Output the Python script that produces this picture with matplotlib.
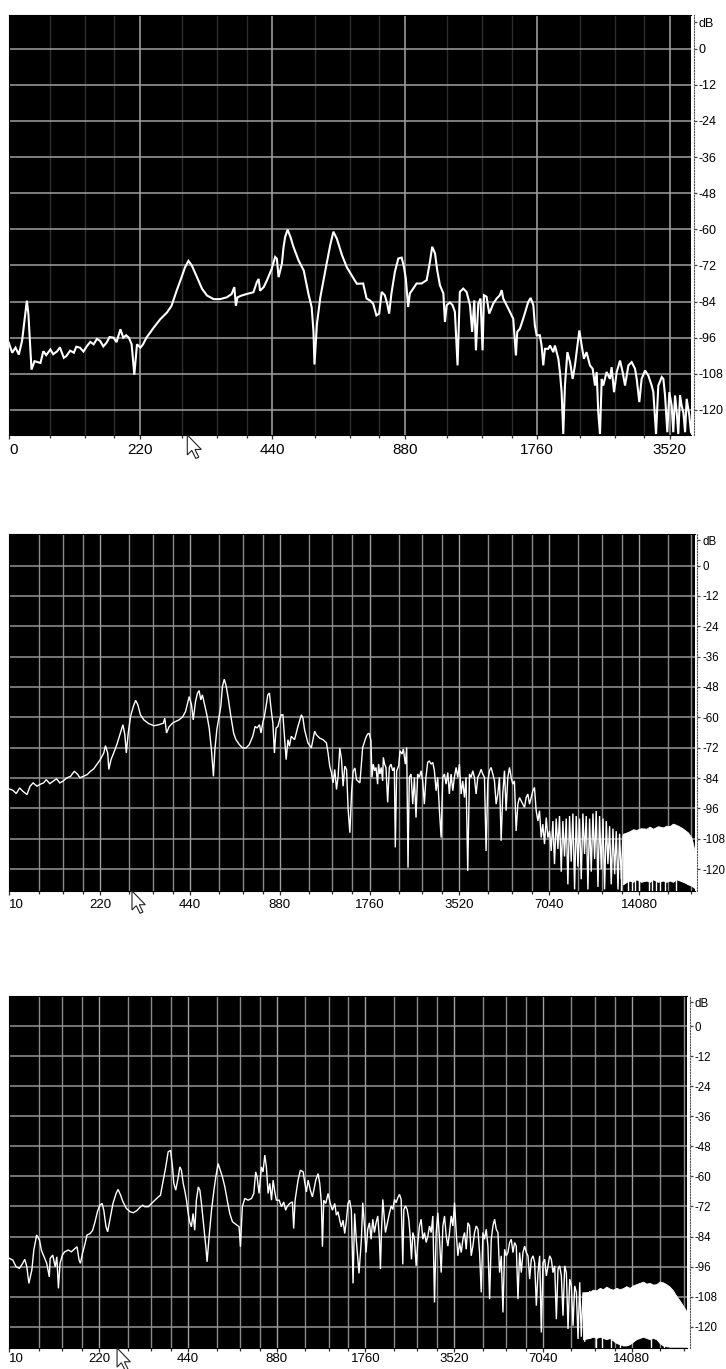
import matplotlib
matplotlib.use('Agg')
import matplotlib.pyplot as plt
from matplotlib.patches import Polygon
from matplotlib.transforms import ScaledTranslation
from matplotlib.ticker import NullFormatter

plt.rcParams['font.family'] = ['Liberation Sans Narrow', 'Liberation Sans', 'DejaVu Sans']

# ---------------- shared axis data ----------------
db_levels = [0, -12, -24, -36, -48, -60, -72, -84, -96, -108, -120]
db_labels = ['0', '-12', '-24', '-36', '-48', '-60', '-72', '-84', '-96', '-108', '-120']
p1_xlabels = ['0', '220', '440', '880', '1760', '3520']
p23_xlabels = ['10', '220', '440', '880', '1760', '3520', '7040', '14080']
octave_bases = [110, 220, 440, 880, 1760, 3520, 7040, 14080]
minor_steps = [1.25, 1.5, 1.75]

# ---------------- panel 1 trace ----------------
p1_freq = [111, 113, 115, 117, 119, 121, 122, 123, 125, 127, 131, 132, 133, 135, 138, 140, 143, 145,
           148, 150, 153, 156, 158, 161, 164, 167, 170, 173, 176, 179, 182, 185, 188, 192, 195, 199,
           202, 205, 208, 211, 214, 217, 221, 224, 228, 237, 245, 254, 260, 267, 274, 279, 284, 289,
           297, 305, 313, 324, 335, 347, 356, 361, 364, 367, 375, 385, 399, 406, 410, 413, 421, 428,
           439, 447, 451, 455, 463, 467, 471, 477, 484, 492, 505, 519, 532, 541, 546, 549, 556, 566,
           581, 596, 606, 617, 634, 650, 667, 685,
           708, 721, 733, 746, 759, 770, 780, 793, 803, 811, 821, 836, 851, 866, 876, 885, 896, 904,
           920, 936, 961, 987, 1004, 1016, 1031, 1043, 1058, 1077, 1086, 1096, 1115, 1130, 1144, 1160,
           1174, 1195, 1216, 1238, 1252, 1266, 1277, 1293, 1308, 1322, 1332, 1350, 1369, 1398, 1423,
           1447, 1461, 1473, 1512, 1552, 1574, 1585, 1607, 1635, 1679, 1700, 1724, 1738, 1754, 1784,
           1800, 1816, 1832, 1864, 1881, 1914, 1930, 1965, 1981, 1999, 2016, 2034, 2060, 2089, 2118,
           2143, 2162, 2193, 2220, 2246, 2277, 2318, 2351, 2380, 2401, 2421, 2443, 2465, 2485, 2529,
           2574, 2596, 2629, 2666, 2713, 2750, 2785, 2834, 2883, 2934, 2960, 3001, 3037, 3092, 3146,
           3201, 3229, 3275, 3314, 3374, 3403, 3433, 3474, 3511, 3554, 3584, 3617, 3649, 3679, 3713,
           3744, 3778, 3812, 3844, 3898, 3932]
p1_db = [-97.7, -101.0, -99.3, -101.6, -97.0, -88.2, -83.7, -88.2, -106.6, -103.8, -104.4, -102.5,
         -100.5, -101.8, -99.9, -101.5, -100.5, -99.2, -102.7, -102.1, -100.3, -101.0, -99.0, -99.3,
         -100.6, -98.8, -97.4, -98.2, -96.4, -97.1, -98.9, -97.7, -95.8, -96.0, -97.5, -93.2, -96.0,
         -95.2, -96.0, -98.2, -108.3, -98.2, -99.3, -98.2, -96.0, -92.6, -89.9, -87.6, -85.4, -80.4,
         -75.9, -72.6, -70.5, -72.0, -75.9, -79.8, -82.0, -83.2, -83.2, -82.6, -81.5, -79.2, -85.4,
         -82.6, -82.0, -81.5, -80.9, -77.6, -76.5, -80.4, -79.2, -77.0, -73.1, -69.2, -69.8, -75.9,
         -71.4, -65.9, -62.5, -60.1, -62.5, -65.9, -70.3, -73.7, -81.5, -85.9, -93.8, -104.9, -91.5,
         -82.6, -73.7, -65.3, -60.8, -63.1, -68.6, -72.6, -75.3, -78.1,
         -78.0, -83.0, -83.6, -84.7, -88.6, -88.0, -80.8, -81.9, -84.7, -88.0, -81.3, -74.1, -69.7,
         -69.4, -72.4, -76.3, -85.8, -81.3, -79.7, -78.0, -78.0, -76.9, -70.8, -65.8, -68.0, -73.6,
         -78.6, -81.3, -90.8, -85.2, -84.3, -85.2, -87.4, -105.2, -80.8, -79.7, -80.8, -85.2, -94.1,
         -83.6, -100.2, -84.7, -83.0, -100.2, -81.9, -82.4, -88.0, -84.7, -83.0, -81.9, -80.2, -83.0,
         -86.3, -89.7, -101.9, -94.1, -93.0, -89.7, -84.1, -82.8, -85.2, -91.9, -95.2, -95.2, -98.6,
         -105.2, -99.7, -99.7, -98.6, -100.8, -98.6, -103.0, -107.4, -114.1, -128.0, -111.9, -100.8,
         -104.1, -109.7, -105.2, -100.8, -93.6, -98.6, -103.0, -100.8, -105.2, -106.3, -111.9,
         -107.4, -120.8, -128.0, -109.7, -111.9, -107.4, -109.7, -105.8, -114.1, -107.4, -103.6,
         -107.4, -111.9, -105.2, -104.1, -106.3, -109.7, -117.4, -109.7, -106.9, -108.6, -111.9,
         -114.1, -128.0, -111.9, -109.1, -109.7, -115.2, -127.4, -114.1, -118.6, -127.4, -115.2,
         -120.8, -128.0, -115.2, -118.6, -120.8, -127.4, -116.3, -121.9, -127.4]

# ---------------- panel 2 trace ----------------
p2_freq = [109, 112, 115, 118, 121, 125, 128, 131, 135, 138, 142, 145, 149, 153, 157, 161, 165, 170,
           175, 180, 185, 188, 193, 199, 204, 209, 214, 220, 226, 229, 233, 235, 239, 244, 250, 257,
           262, 266, 269, 273, 278, 284, 289, 294, 300, 308, 320, 333, 346, 358, 362, 367, 374, 384,
           394, 404, 415, 425, 437, 445, 451, 459, 466, 472, 478, 484, 491, 501, 510, 519, 527, 533,
           541, 551, 558, 565, 573, 582, 592, 603, 616, 627, 644, 660, 678, 695, 714, 727, 738, 752,
           761, 771, 781, 791, 802, 812, 823, 834, 844, 855, 867, 878, 889, 901, 912, 924, 937, 948,
           961, 986, 1012, 1039, 1052, 1065, 1093, 1122, 1151, 1167, 1197, 1228, 1261, 1277, 1294,
           1311, 1327, 1345, 1363, 1380, 1398, 1417, 1434, 1453, 1473, 1491, 1511, 1531, 1550, 1571,
           1590, 1633,
           1668, 1690, 1711, 1733, 1755, 1778, 1792, 1810, 1829, 1849, 1872, 1886, 1905, 1925, 1946,
           1956, 1976, 1997, 2023, 2049, 2075, 2103, 2130, 2146, 2169, 2203, 2226, 2261, 2284, 2319,
           2343, 2367, 2391, 2423, 2455, 2487, 2518, 2550, 2584, 2617, 2651, 2686, 2719, 2755, 2790,
           2828, 2866, 2902, 2940, 2977, 3017, 3057, 3095, 3136, 3175, 3218, 3257, 3301, 3345, 3386,
           3431, 3475, 3520, 3567, 3612, 3660, 3705, 3754, 3805, 3852, 3903, 3952, 4005, 4056, 4108,
           4163, 4215, 4271, 4325, 4383, 4440, 4496, 4556, 4614, 4674, 4735, 4795, 4858, 4920, 4985,
           5048, 5115, 5182, 5248, 5316, 5383, 5454, 5527, 5597, 5671, 5743, 5818, 5892, 5970, 6048,
           6125, 6206, 6284, 6367, 6451, 6533, 6619, 6703, 6791, 6881, 6967, 7060, 7149,
           7243, 7335, 7431, 7529, 7624, 7726, 7822, 7926, 8031, 8132, 8239, 8343, 8453, 8565, 8673,
           8787, 8898, 9016, 9130, 9250, 9373, 9491, 9616, 9739, 9867, 9998, 10123, 10257, 10386,
           10524, 10663, 10797, 10940, 11078, 11225, 11366, 11517, 11670, 11816, 11972, 12122, 12283,
           12444]
p2_db = [-88.3, -88.8, -90.1, -87.9, -89.2, -90.5, -87.2, -85.9, -87.2, -86.5, -85.9, -84.6, -86.2,
         -85.2, -84.3, -85.9, -85.2, -83.9, -83.3, -81.3, -82.6, -83.9, -83.3, -82.6, -81.3, -80.4,
         -78.7, -76.7, -74.1, -71.2, -74.1, -80.6, -76.7, -74.1, -70.8, -66.2, -62.9, -66.9, -74.1,
         -66.2, -59.6, -55.7, -53.3, -55.0, -59.0, -61.0, -62.5, -63.3, -62.9, -62.3, -60.3, -66.2,
         -63.8, -62.3, -61.6, -61.0, -59.9, -57.7, -51.8, -55.0, -61.0, -53.7, -50.4, -49.4, -53.1,
         -51.1, -54.4, -59.0, -64.2, -72.8, -83.3, -72.8, -64.9, -59.6, -55.7, -47.8, -44.9, -47.8,
         -53.1, -59.6, -66.2, -68.8, -70.8, -72.1, -72.1, -70.8, -67.5, -63.6, -64.2, -62.9, -66.2,
         -62.3, -59.6, -55.7, -51.1, -50.4, -57.0, -62.3, -74.1, -64.2, -63.6, -61.0, -59.0, -59.0,
         -67.5, -76.7, -68.8, -71.4, -67.5, -68.8, -63.6, -59.0, -60.3, -64.9, -70.1, -72.1, -65.5,
         -66.9, -68.2, -68.8, -70.1, -74.1, -79.3, -82.0, -85.9, -80.6, -88.5, -83.3, -72.1, -76.7,
         -87.2, -79.3, -80.6, -96.4, -105.6, -89.8, -81.3, -80.0, -84.6, -85.9,
         -71.9, -69.9, -67.9, -66.6, -66.3, -69.2, -83.7, -78.5, -81.1, -79.8, -86.4, -78.5, -82.4,
         -79.8, -85.1, -75.8, -78.5, -79.8, -93.6, -79.8, -78.5, -81.1, -79.8, -111.4, -81.1, -79.1,
         -73.2, -74.5, -72.5, -78.5, -71.9, -119.4, -83.7, -82.4, -94.3, -83.7, -99.6, -82.4, -83.7,
         -81.1, -85.1, -94.3, -83.7, -77.8, -77.2, -78.5, -77.8, -81.1, -89.0, -83.7, -96.9, -107.5,
         -83.7, -82.4, -86.4, -81.8, -90.3, -82.4, -89.0, -83.7, -79.8, -83.7, -78.5, -90.3, -85.1,
         -91.7, -83.7, -120.7, -82.4, -83.7, -81.1, -83.7, -90.3, -83.7, -82.4, -80.5, -82.4, -83.7,
         -112.8, -85.1, -81.1, -79.8, -82.4, -85.1, -94.3, -90.3, -83.7, -108.8, -90.3, -81.1, -96.9,
         -83.7, -79.8, -83.7, -86.4, -85.1, -104.9, -94.3, -91.7, -93.0, -94.3, -95.6, -91.7, -90.3,
         -94.3, -91.7, -89.0, -87.7, -96.9, -100.9, -96.9, -107.5, -102.2, -110.1, -99.6, -107.5,
         -104.9, -112.8,
         -101.0, -118.0, -100.0, -112.0, -99.0, -121.0, -101.0, -115.0, -100.0, -126.0, -99.0, -117.0,
         -98.0, -128.0, -99.0, -119.0, -100.0, -124.0, -98.0, -114.0, -99.0, -128.0, -100.0, -121.0,
         -98.0, -116.0, -97.0, -127.0, -99.0, -120.0, -100.0, -128.0, -101.0, -118.0, -103.0, -126.0,
         -104.0, -122.0, -105.0, -128.0, -106.0, -124.0, -107.0]

# dense (solid) high-frequency band of panel 2
p2_band_freq = [12444, 12800, 13099, 13450, 13791, 14300, 14903, 15300, 15690, 16300, 16951, 17400,
                17846, 18300, 18786, 19300, 19789, 20200, 20557, 21103, 21370, 21650]
p2_band_top = [-106.0, -105.5, -105.0, -104.2, -104.5, -103.8, -104.0, -103.2, -104.0, -103.0,
               -103.5, -102.8, -103.0, -102.0, -102.5, -103.2, -104.0, -104.8, -105.5, -107.5,
               -110.0, -113.0]
p2_band_bot = [-126.0, -125.0, -124.5, -125.0, -124.0, -125.0, -124.5, -125.0, -124.0, -125.0,
               -124.5, -125.0, -124.5, -125.0, -124.0, -124.5, -125.0, -125.5, -126.0, -126.5,
               -127.0, -127.5]
p2_spike_freq = [12300, 12900, 13300, 13700, 14100, 15200, 15600, 16000, 16500, 17200, 18700]
p2_spike_top = [-122.0, -124.0, -123.0, -117.0, -124.0, -123.0, -121.0, -122.0, -124.0, -123.0, -120.0]

# ---------------- panel 3 trace ----------------
p3_freq = [109, 112, 115, 118, 121, 123, 125, 127, 130, 132, 135, 138, 140, 143, 146, 149, 150, 153,
           156, 158, 160, 162, 165, 168, 173, 177, 182, 185, 188, 190, 193, 197, 200, 205, 209, 213,
           217, 221, 225, 228, 232, 235, 239, 245, 251, 255, 260, 265, 272, 280, 287, 295, 302, 309,
           314, 323, 331, 340, 349, 355, 363, 370, 377, 384, 390, 394, 400, 408, 413, 418, 424, 429,
           435, 441, 446, 452, 458, 464, 470, 477, 483, 489, 498, 506, 511, 519, 529, 539, 547, 557,
           564, 576, 587, 598, 610, 623, 634, 646, 656, 663, 673, 686, 704, 723, 736, 747, 755, 767,
           781, 791, 802, 812, 823, 834, 845, 856, 867, 878, 897, 914, 930, 944, 954, 974, 995, 1005,
           1016, 1040, 1059, 1082, 1095, 1110, 1125, 1145, 1163, 1176, 1194, 1216, 1232, 1248, 1258,
           1271, 1291, 1315, 1338, 1360, 1385, 1403, 1421, 1440, 1458, 1478, 1497, 1517, 1536, 1556,
           1577, 1598, 1618, 1639, 1674, 1705,
           1724, 1747, 1769, 1792, 1816, 1840, 1864, 1888, 1913, 1938, 1964, 1979, 1995, 2016, 2037,
           2058, 2080, 2113, 2152, 2180, 2208, 2237, 2267, 2297, 2327, 2357, 2376, 2407, 2438, 2470,
           2496, 2522, 2549, 2582, 2616, 2650, 2685, 2720, 2756, 2792, 2829, 2866, 2904, 2942, 2980,
           3019, 3059, 3099, 3140, 3181, 3223, 3265, 3308, 3351, 3395, 3440, 3485, 3531, 3577, 3624,
           3672, 3720, 3769, 3818, 3868, 3919, 3970, 4022, 4075, 4128, 4183, 4237, 4293, 4349, 4407,
           4464, 4523, 4582, 4643, 4703, 4765, 4827, 4891, 4955, 5020, 5086, 5153, 5220, 5289, 5358,
           5429, 5500, 5572, 5645, 5719, 5794, 5870, 5947, 6025, 6104, 6185, 6266, 6348, 6431, 6516,
           6601, 6688, 6775, 6864, 6954, 7046, 7138, 7232, 7327, 7423, 7520, 7619, 7719, 7820, 7922,
           8026, 8131, 8238, 8346, 8456, 8567, 8679, 8793, 8908, 9025, 9144, 9264, 9385, 9500, 9633,
           9760, 9887, 10010, 10148]
p3_db = [-92.7, -93.4, -96.1, -96.7, -94.7, -93.1, -96.1, -102.7, -97.4, -89.4, -83.4, -85.4, -89.4,
         -92.1, -94.7, -100.1, -92.7, -91.4, -96.1, -92.1, -104.7, -94.7, -91.4, -90.1, -89.4, -90.1,
         -88.8, -88.1, -93.4, -94.7, -90.8, -86.8, -83.4, -82.8, -81.5, -78.1, -74.1, -71.5, -70.8,
         -73.5, -80.1, -82.1, -77.5, -70.8, -66.8, -65.2, -67.5, -70.2, -72.8, -74.1, -74.5, -73.7,
         -72.4, -71.5, -72.1, -72.1, -70.8, -69.5, -68.2, -67.5, -61.5, -56.2, -50.2, -49.6, -56.2,
         -62.8, -65.5, -60.2, -56.2, -57.5, -62.8, -65.5, -69.5, -74.8, -78.1, -80.1, -74.8, -81.5,
         -69.5, -64.2, -65.5, -70.8, -80.1, -88.1, -94.1, -84.1, -73.5, -65.5, -60.2, -54.9, -56.9,
         -60.2, -64.2, -69.5, -74.8, -78.1, -78.8, -79.5, -80.1, -88.1, -72.1, -68.8, -69.5, -68.8,
         -66.8, -58.2, -60.2, -66.8, -56.2, -58.2, -51.5, -56.2, -66.8, -62.8, -69.5, -61.5, -66.2,
         -69.5, -69.5, -72.1, -70.2, -73.5, -72.1, -70.8, -70.2, -80.8, -69.5, -61.5, -57.5, -58.2,
         -62.2, -66.2, -61.5, -65.5, -68.2, -65.5, -61.5, -58.9, -62.8, -70.8, -88.1, -69.5, -70.8,
         -66.8, -70.8, -73.5, -70.8, -75.5, -74.1, -77.5, -80.1, -77.5, -82.8, -77.5, -70.8, -69.5,
         -73.5, -102.7, -74.8, -85.4, -98.7, -85.4,
         -70.5, -79.8, -90.4, -81.1, -78.5, -85.1, -77.1, -82.4, -78.5, -75.8, -85.1, -97.0, -82.4,
         -69.2, -75.8, -82.4, -79.8, -75.8, -71.8, -73.2, -69.2, -70.5, -68.5, -67.2, -69.2, -95.1,
         -73.2, -71.8, -73.2, -77.1, -83.8, -93.1, -82.4, -85.1, -95.7, -86.4, -79.8, -77.1, -85.1,
         -82.4, -86.4, -83.8, -79.8, -82.4, -75.8, -110.3, -82.4, -74.5, -85.1, -98.4, -79.8, -75.8,
         -83.8, -87.8, -82.4, -75.8, -79.8, -70.5, -82.4, -91.7, -86.4, -90.4, -85.1, -82.4, -89.1,
         -78.5, -79.8, -91.7, -87.8, -82.4, -79.8, -81.1, -90.4, -106.3, -82.4, -85.1, -81.1, -87.8,
         -109.0, -85.1, -79.8, -77.1, -81.1, -82.4, -98.4, -91.7, -114.3, -89.1, -91.7, -90.4, -86.4,
         -85.1, -90.4, -86.4, -87.8, -109.0, -90.4, -98.4, -90.4, -87.8, -90.4, -91.7, -101.0, -93.1,
         -91.7, -94.4, -111.6, -98.4, -91.7, -122.3, -94.4, -93.1, -99.7, -95.7, -91.7, -93.1, -98.4,
         -95.7, -117.0, -97.0, -95.7, -99.7, -115.6, -95.7, -98.4, -120.9, -101.0, -103.7, -119.6,
         -103.7, -106.3, -124.9, -102.3, -124.0, -106.3, -126.0, -107.0, -123.0, -106.0]

# dense (solid) high-frequency band of panel 3
p3_band_freq = [9633, 10148, 10416, 10691, 10980, 11262, 11560, 11863, 12176, 12497, 12830, 13165,
                13500, 13868, 14230, 14609, 15000, 15389, 15800, 16211, 16640, 17077, 17520, 17989,
                18450, 18950, 19450, 19962, 20490, 21028, 21400, 21699]
p3_band_top = [-106.3, -106.0, -105.2, -105.5, -104.5, -105.0, -104.0, -104.8, -105.2, -104.5,
               -105.0, -104.6, -103.8, -104.5, -103.5, -103.0, -102.5, -102.0, -102.8, -102.5,
               -103.2, -103.0, -102.0, -102.3, -103.0, -104.0, -105.5, -107.7, -109.5, -111.6,
               -113.0, -114.3]
p3_band_bot = [-125.0, -124.5, -124.0, -124.5, -124.0, -124.5, -125.0, -124.5, -125.5, -126.5,
               -127.0, -127.5, -127.5, -127.0, -126.0, -125.0, -124.5, -124.0, -124.5, -125.0,
               -124.5, -125.0, -126.5, -127.5, -127.8, -128.0, -128.0, -128.0, -128.0, -128.0,
               -128.0, -128.0]
p3_spike_freq = [10691, 11200, 12020, 12830, 16420, 18200]
p3_spike_top = [-123.6, -120.9, -123.6, -120.9, -124.9, -126.0]

# ---------------- figure ----------------
fig = plt.figure(figsize=(7.26, 13.69), dpi=100)
fig.patch.set_facecolor('white')

panels = [
    dict(rect=[0.0128, 0.6823, 0.9394, 0.3068], xlim=(111.3, 3938), ylim=(-128.3, 11.2),
         labels=p1_xlabels, faint=True, fsx=11, fsy=9, ytl=2, lw=1.5, pad=2.5, cursor=0.261, cs=1.0),
    dict(rect=[0.0128, 0.3492, 0.9441, 0.2608], xlim=(109, 21650), ylim=(-128.6, 12.5),
         labels=p23_xlabels, faint=False, fsx=9.5, fsy=8.3, ytl=2.5, lw=1.0, pad=2.5, cursor=0.179, cs=0.95),
    dict(rect=[0.0128, 0.01534, 0.9335, 0.2571], xlim=(109, 21700), ylim=(-128.5, 12.0),
         labels=p23_xlabels, faint=False, fsx=9.5, fsy=8.3, ytl=2.5, lw=1.0, pad=0.8, cursor=0.159, cs=0.95),
]
traces = [(p1_freq, p1_db, None),
          (p2_freq, p2_db, (p2_band_freq, p2_band_top, p2_band_bot, p2_spike_freq, p2_spike_top)),
          (p3_freq, p3_db, (p3_band_freq, p3_band_top, p3_band_bot, p3_spike_freq, p3_spike_top))]

for cfg, (fx, fy, band) in zip(panels, traces):
    ax = fig.add_axes(cfg['rect'])
    ax.set_facecolor('black')
    ax.set_xscale('log', base=2)
    ax.set_xlim(*cfg['xlim'])
    ax.set_ylim(*cfg['ylim'])
    lo, hi = cfg['xlim']
    majors = [b for b in octave_bases if lo * 1.05 < b < hi]
    minors = [b * m for b in octave_bases for m in minor_steps if lo < b * m < hi]
    if cfg['faint']:
        for f in minors:
            ax.axvline(f, color='#2e2e2e', lw=1.0, zorder=1)
        for f in majors:
            ax.axvline(f, color='#a8a8a8', lw=1.1, zorder=1)
        hcol = '#a0a0a0'
    else:
        for f in minors:
            ax.axvline(f, color='#8a8a8a', lw=1.0, zorder=1)
        for f in majors:
            ax.axvline(f, color='#a0a0a0', lw=1.0, zorder=1)
        hcol = '#959595'
    for d in db_levels:
        ax.axhline(d, color=hcol, lw=1.1, zorder=1)

    ax.plot(fx, fy, color='white', lw=cfg['lw'], zorder=3, solid_joinstyle='miter')
    if band is not None:
        bf, bt, bb, sf, st = band
        ax.fill_between(bf, bb, bt, color='white', lw=0.6, zorder=3)
        ax.vlines(sf, cfg['ylim'][0], st, color='white', lw=1.0, zorder=3)

    # x ticks
    ax.set_xticks([lo] + majors)
    ax.set_xticklabels(cfg['labels'][:len(majors) + 1])
    ax.set_xticks(minors, minor=True)
    ax.xaxis.set_minor_formatter(NullFormatter())
    ax.get_xticklabels()[0].set_horizontalalignment('left')
    ax.tick_params(axis='x', which='major', length=3, width=0.9, color='#333333',
                   labelsize=cfg['fsx'], pad=cfg['pad'])
    ax.tick_params(axis='x', which='minor', length=2, width=0.9, color='#333333')

    # y ticks on right
    ax.yaxis.tick_right()
    ax.set_yticks([cfg['ylim'][1] - 2.5] + db_levels)
    ax.set_yticklabels(['dB'] + db_labels)
    ax.tick_params(axis='y', which='major', length=cfg['ytl'], width=0.9, color='#444444',
                   labelsize=cfg['fsy'], pad=1.0)
    for s in ['left', 'top', 'bottom']:
        ax.spines[s].set_color('black')
    ax.spines['right'].set_position(('outward', 2))
    ax.spines['right'].set_linestyle((0, (1, 1.5)))
    ax.spines['right'].set_color('#555555')
    ax.spines['right'].set_linewidth(0.8)

    # mouse cursor drawn below the axis
    s = cfg['cs']
    verts = [(0, 0), (0, -0.20 * s), (0.045 * s, -0.155 * s), (0.085 * s, -0.235 * s),
             (0.115 * s, -0.222 * s), (0.077 * s, -0.145 * s), (0.14 * s, -0.145 * s)]
    trans = fig.dpi_scale_trans + ScaledTranslation(cfg['cursor'], 0, ax.transAxes)
    cur = Polygon(verts, closed=True, facecolor='white', edgecolor='#222222', lw=0.8,
                  transform=trans, clip_on=False, zorder=20)
    fig.add_artist(cur)

fig.savefig('out.png', dpi=100, facecolor='white')
